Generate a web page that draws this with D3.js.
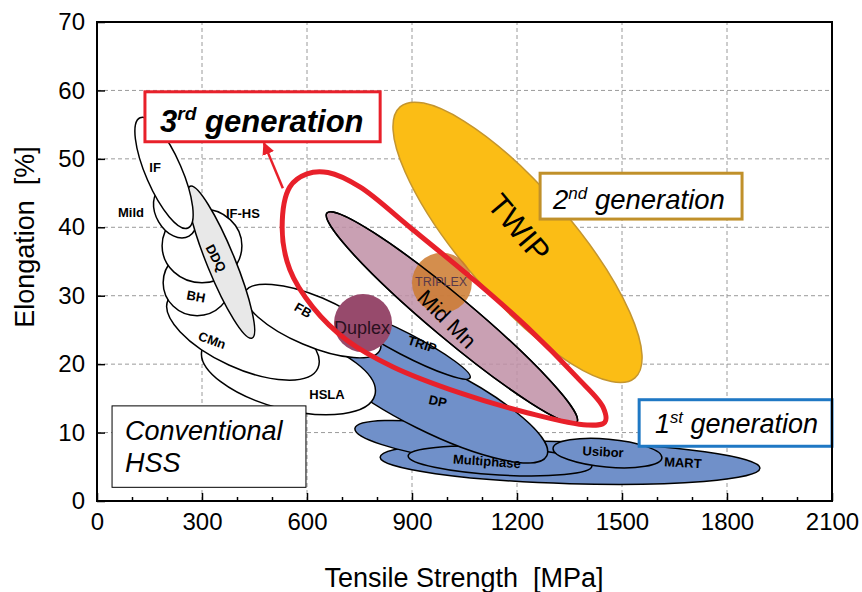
<!DOCTYPE html>
<html><head><meta charset="utf-8">
<script src="https://cdn.jsdelivr.net/npm/d3@7"></script>
<style>body{margin:0;background:#fff}text{font-family:"Liberation Sans",Arial,sans-serif;white-space:pre}</style>
</head><body><svg id="c" width="862" height="592"></svg>
<script>
// ---- axis ticks ----
const xTicks = [0,300,600,900,1200,1500,1800,2100];
const xMinor = [100,200,400,500,700,800,1000,1100,1300,1400,1600,1700,1900,2000];
const yTicks = [0,10,20,30,40,50,60,70];

// ---- property windows: ends of the major axis [tensile MPa, elongation %] ----
const firstGen = [
  {name:"MART",       from:[809,6.4],   to:[1894,4.8]},
  {name:"DPlow",      from:[737,10.6],  to:[1280,6.6]},
  {name:"Multiphase", from:[889,6.6],   to:[1414,5.1]},
  {name:"Usibor",     from:[1303,7.7],  to:[1614,6.3]},
  {name:"DP",         from:[623,23.5],  to:[1285,6.6]},
  {name:"TRIP",       from:[694,27.9],  to:[1066,18.0]}
];
const conventional = [
  {name:"HSLA",  from:[300,22.1], to:[794,15.5]},
  {name:"CMn",   from:[203,29.4], to:[631,19.4]},
  {name:"FB",    from:[423,30.5], to:[809,22.1]},
  {name:"BH",    from:[189,31.9], to:[383,31.9]},
  {name:"IF-HS", from:[186,37.3], to:[414,37.3]},
  {name:"Mild",  from:[183,45.7], to:[263,38.7]},
  {name:"DDQ",   from:[266,46.0], to:[443,23.8]},
  {name:"IF",    from:[123,56.0], to:[260,39.9]}
];
const secondGen = [
  {name:"TWIP", from:[866,57.6], to:[1537,18.0]}
];
const thirdGen = [
  {name:"Mid Mn",  from:[657,42.1], to:[1371,11.5]},
  {name:"TRIPLEX", from:[900,31.9], to:[1071,31.9]},
  {name:"Duplex",  from:[677,26.0], to:[843,26.0]}
];
// outline of the 3rd generation target zone [tensile MPa, elongation %]
const thirdZone = [[600,47.8],[551,45.9],[529,40.0],[551,33.8],[617,28.3],[714,23.5],[846,19.6],
  [1037,15.8],[1229,12.9],[1400,11.1],[1451,11.5],[1446,13.7],[1371,18.1],[1229,25.4],[1086,31.9],
  [894,40.0],[751,45.9],[660,48.0]];
const arrowFrom = [531,45.7], arrowTo = [477,52.3];

// ---- styles (kept apart from the data) ----
const style = {
  "MART":{b:21,fill:"#7090c9"}, "DPlow":{b:17,fill:"#7090c9"}, "Multiphase":{b:14,fill:"#7090c9"},
  "Usibor":{b:14,fill:"#7090c9"}, "DP":{b:33,fill:"#7090c9"}, "TRIP":{b:11,fill:"#7090c9"},
  "HSLA":{b:37,fill:"#fff"}, "CMn":{b:34,fill:"#fff"}, "FB":{b:25,fill:"#fff"}, "BH":{b:33,fill:"#fff"},
  "IF-HS":{b:37,fill:"#fff"}, "Mild":{b:19,fill:"#fff"}, "DDQ":{b:14,fill:"#e8e8e8"}, "IF":{b:18,fill:"#fff"},
  "TWIP":{b:55,fill:"#fbbd15",stroke:"#c4952e"},
  "Mid Mn":{b:21,fill:"#bf8fa6",op:0.85},
  "TRIPLEX":{b:30,fill:"#cc7a2e",op:0.85,stroke:"none"},
  "Duplex":{b:29,fill:"#974a6c"}
};
// label anchor points [tensile MPa, elongation %], rotation, size
const labels = [
  {t:"IF",ts:166,el:48.8,r:0,s:13},{t:"Mild",ts:97,el:42.2,r:0,s:13},{t:"IF-HS",ts:417,el:42.0,r:0,s:13},
  {t:"DDQ",ts:340,el:35.5,r:62,s:13},{t:"BH",ts:283,el:29.9,r:10,s:13},{t:"CMn",ts:329,el:23.5,r:20,s:13},
  {t:"FB",ts:589,el:27.9,r:30,s:13},{t:"HSLA",ts:657,el:15.6,r:0,s:13},{t:"TRIP",ts:929,el:22.9,r:18,s:13},
  {t:"DP",ts:974,el:14.6,r:12,s:13},{t:"Multiphase",ts:1114,el:5.8,r:4,s:13},{t:"Usibor",ts:1446,el:7.2,r:3,s:13},
  {t:"MART",ts:1674,el:5.6,r:3,s:13}
];

const svg = d3.select("#c");
const x = d3.scaleLinear().domain([0,2100]).range([97,832]);
const y = d3.scaleLinear().domain([0,70]).range([501,22]);

// grid
const grid = svg.append("g").attr("stroke","#9a9a9a").attr("stroke-dasharray","4,3").attr("stroke-width",1);
xTicks.slice(1,-1).forEach(v=>grid.append("line").attr("x1",x(v)).attr("x2",x(v)).attr("y1",y(0)).attr("y2",y(70)));
yTicks.slice(1,-1).forEach(v=>grid.append("line").attr("y1",y(v)).attr("y2",y(v)).attr("x1",x(0)).attr("x2",x(2100)));

function ell(g, rec){
  const st = style[rec.name];
  const x1=x(rec.from[0]), y1=y(rec.from[1]), x2=x(rec.to[0]), y2=y(rec.to[1]);
  const cx=(x1+x2)/2, cy=(y1+y2)/2, a=Math.hypot(x2-x1,y2-y1)/2;
  const ang=Math.atan2(y2-y1,x2-x1)*180/Math.PI;
  return g.append("ellipse").attr("rx",a).attr("ry",st.b)
    .attr("transform",`translate(${cx},${cy}) rotate(${ang})`)
    .attr("fill",st.fill).attr("fill-opacity",st.op||1)
    .attr("stroke",st.stroke||"#000").attr("stroke-width",1.5);
}
const layer = svg.append("g");
firstGen.forEach(r=>ell(layer,r));
conventional.forEach(r=>ell(layer,r));
secondGen.forEach(r=>ell(layer,r));
ell(layer,thirdGen[0]);
ell(layer,thirdGen[1]);
ell(layer,thirdGen[0]).attr("fill","none");
ell(layer,thirdGen[2]).attr("stroke","none");

// small labels
labels.forEach(l=>{
  layer.append("text").attr("transform",`translate(${x(l.ts)},${y(l.el)}) rotate(${l.r})`)
    .attr("text-anchor","middle").attr("dy","0.35em").attr("font-size",l.s).attr("font-weight","bold").text(l.t);
});
const bigLab = (t,ts,el,r,s,col)=>layer.append("text").attr("transform",`translate(${x(ts)},${y(el)}) rotate(${r})`)
  .attr("text-anchor","middle").attr("dy","0.35em").attr("font-size",s).attr("fill",col).text(t);
bigLab("TWIP",1206,39.9,50,31,"#000");
bigLab("Mid Mn",1000,26.6,45,22,"#000");
bigLab("TRIPLEX",983,32.0,0,12.5,"#5a3a4a");
bigLab("Duplex",757,25.4,0,18,"#2a1020");

// 3rd generation zone
svg.append("path").datum(thirdZone)
  .attr("d",d3.line().x(d=>x(d[0])).y(d=>y(d[1])).curve(d3.curveCatmullRomClosed.alpha(0.5)))
  .attr("fill","none").attr("stroke","#e8202a").attr("stroke-width",5);
// arrow
svg.append("defs").append("marker").attr("id","ah").attr("viewBox","0 0 10 10").attr("refX",9).attr("refY",5)
  .attr("markerWidth",5).attr("markerHeight",5).attr("markerUnits","strokeWidth").attr("orient","auto")
  .append("path").attr("d","M0,0L10,5L0,10z").attr("fill","#e8202a");
svg.append("line").attr("x1",x(arrowFrom[0])).attr("y1",y(arrowFrom[1])).attr("x2",x(arrowTo[0])).attr("y2",y(arrowTo[1]))
  .attr("stroke","#e8202a").attr("stroke-width",2.5).attr("marker-end","url(#ah)");

// generation boxes
function box(ts0,el0,ts1,el1,col,w){
  svg.append("rect").attr("x",x(ts0)).attr("y",y(el0)).attr("width",x(ts1)-x(ts0)).attr("height",y(el1)-y(el0))
    .attr("fill","#fff").attr("stroke",col).attr("stroke-width",w);
}
function genText(ts,el,n,sup,size,bold){
  const t = svg.append("text").attr("x",x(ts)).attr("y",y(el)).attr("font-size",size)
    .attr("font-style","italic").attr("font-weight",bold?"bold":"normal");
  t.append("tspan").text(n);
  t.append("tspan").attr("font-size",size*0.62).attr("dy",-size*0.38).text(sup);
  t.append("tspan").attr("dy",size*0.38).text(" generation");
}
box(137,59.8,809,52.5,"#e8202a",3);
genText(180,53.9,"3","rd",31,true);
box(1266,47.9,1843,41.2,"#c0902a",3);
genText(1303,42.6,"2","nd",27.5,false);
box(1549,14.8,2100,8.0,"#1f78c4",3);
genText(1594,9.95,"1","st",27,false);
box(43,13.9,597,2.0,"#000",1);
svg.append("text").attr("x",x(80)).attr("y",y(8.9)).attr("font-size",27).attr("font-style","italic").text("Conventional");
svg.append("text").attr("x",x(80)).attr("y",y(4.2)).attr("font-size",27).attr("font-style","italic").text("HSS");

// axes
const xa = svg.append("g").attr("transform",`translate(0,${y(0)})`)
  .call(d3.axisBottom(x).tickValues(xTicks).tickSize(-8).tickPadding(12).tickFormat(d3.format("d")));
const xm = svg.append("g").attr("transform",`translate(0,${y(0)})`)
  .call(d3.axisBottom(x).tickValues(xMinor).tickSize(-4).tickFormat(""));
const ya = svg.append("g").attr("transform",`translate(${x(0)},0)`)
  .call(d3.axisLeft(y).tickValues(yTicks).tickSize(-8).tickPadding(12));
[xa,xm,ya].forEach(a=>{a.select(".domain").remove();a.selectAll("line").attr("stroke","#000").attr("stroke-width",1.5);});
[xa,ya].forEach(a=>a.selectAll("text").attr("font-size",24).attr("font-family","Liberation Sans, Arial, sans-serif").attr("fill","#000"));
svg.append("rect").attr("x",x(0)).attr("y",y(70)).attr("width",x(2100)-x(0)).attr("height",y(0)-y(70))
  .attr("fill","none").attr("stroke","#000").attr("stroke-width",2);

svg.append("text").attr("x",464).attr("y",587).attr("text-anchor","middle").attr("font-size",27).text("Tensile Strength  [MPa]");
svg.append("text").attr("transform","translate(34,237) rotate(-90)").attr("text-anchor","middle").attr("font-size",27).text("Elongation  [%]");
</script></body></html>
